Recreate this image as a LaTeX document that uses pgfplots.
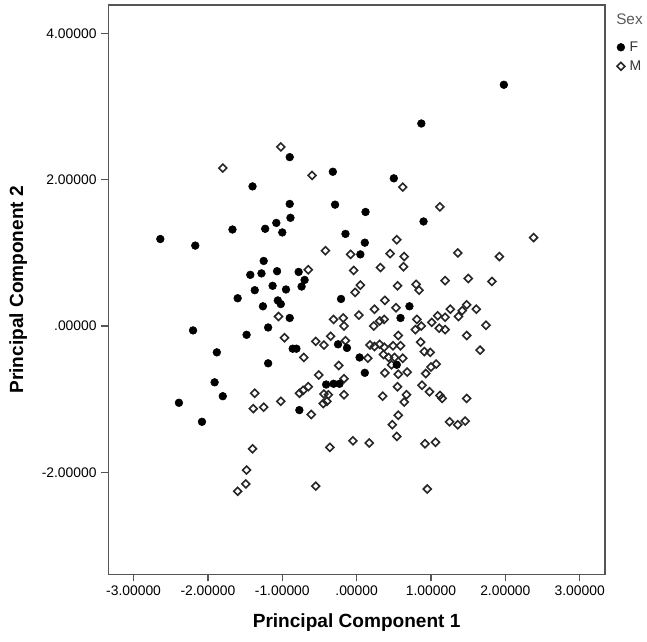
\documentclass[border=0pt]{standalone}
\usepackage{fontspec}
\setmainfont{Liberation Sans}
\usepackage{pgfplots}
\pgfplotsset{compat=1.18}
\definecolor{frame}{HTML}{555555}
\definecolor{sexgray}{HTML}{5A5A5A}
\pgfplotsset{myimg/.style={legend image code/.code={\draw[mark repeat=2,mark phase=2,##1] plot coordinates {(0pt,0pt)(4pt,0pt)(8pt,0pt)};}}}
\begin{document}
\begin{tikzpicture}
\begin{axis}[
  scale only axis,
  width=372.5pt, height=427pt,
  xmin=-3.34, xmax=3.34, ymin=-3.397, ymax=4.391,
  clip=false,
  axis line style={frame, line width=1.1pt},
  tick style={frame, line width=0.9pt},
  tick align=outside, tick pos=left,
  major tick length=5.25pt,
  xtick={-3,-2,-1,0,1,2,3},
  xticklabels={-3.00000,-2.00000,-1.00000,.00000,1.00000,2.00000,3.00000},
  ytick={-2,0,2,4},
  yticklabels={-2.00000,.00000,2.00000,4.00000},
  ticklabel style={font=\fontsize{10.4}{12}\selectfont, text=black},
  xlabel={Principal Component 1},
  ylabel={Principal Component 2},
  label style={font=\fontsize{14.3}{16}\selectfont\bfseries},
  xlabel style={at={(axis description cs:0.5,-0.0855)}, anchor=center},
  ylabel style={at={(axis description cs:-0.1812,0.5)}, anchor=center},
  legend style={draw=none, fill=none, at={(rel axis cs:1,1)}, anchor=north west,
    xshift=8.75pt, yshift=-24.4pt, inner sep=0pt, row sep=0pt,
    font=\fontsize{10.5}{12}\selectfont, text=black!80,
    nodes={inner sep=0pt, minimum height=14.25pt},
    /tikz/every odd column/.style={column sep=3.5pt}},
  legend cell align=left,
]
\addlegendimage{only marks, mark=*, mark size=2.9pt, mark options={draw=black, fill=black}, myimg}
\addlegendentry{F}
\addlegendimage{only marks, mark=square, mark size=2.1pt, mark options={rotate=45, line width=1.2pt, draw=black!85, fill=none}, myimg}
\addlegendentry{M}
\addplot[only marks, mark=square, mark size=2.1pt, mark options={rotate=45, line width=1.2pt, draw=black!85, fill=none}, forget plot] coordinates {
(-1.02,2.45)(-1.80,2.16)(-0.60,2.06)(0.62,1.90)(1.12,1.63)(0.54,1.18)(2.38,1.21)(-0.42,1.03)
(-0.08,0.98)(0.45,0.99)(0.64,0.95)(1.36,1.00)(1.92,0.95)(-0.65,0.77)(-0.04,0.76)(0.32,0.80)
(0.63,0.81)(0.05,0.56)(-0.02,0.46)(0.55,0.55)(0.80,0.57)(0.84,0.49)(1.19,0.62)(1.50,0.65)
(1.82,0.61)(0.38,0.35)(0.24,0.23)(0.53,0.25)(0.03,0.15)(-1.05,0.13)(-0.31,0.09)(-0.18,0.11)
(-0.17,0.00)(0.23,-0.00)(0.31,0.07)(0.37,0.09)(0.81,0.09)(0.79,-0.05)(0.87,0.00)(1.01,0.05)
(1.09,0.14)(1.19,0.12)(1.26,0.23)(1.11,-0.03)(1.19,-0.05)(1.37,0.13)(1.42,0.21)(1.48,0.29)
(1.61,0.23)(1.74,0.01)(1.48,-0.13)(1.66,-0.33)(-0.97,-0.16)(-0.35,-0.14)(-0.55,-0.21)(-0.44,-0.26)
(-0.15,-0.20)(0.56,-0.13)(0.18,-0.26)(0.24,-0.28)(0.31,-0.25)(0.37,-0.29)(0.49,-0.27)(0.59,-0.27)
(0.86,-0.22)(0.91,-0.35)(0.99,-0.36)(-0.71,-0.43)(0.15,-0.44)(0.36,-0.39)(0.43,-0.43)(0.51,-0.43)
(0.62,-0.44)(-0.24,-0.54)(0.47,-0.53)(1.00,-0.56)(1.07,-0.52)(-0.51,-0.67)(0.38,-0.64)(0.56,-0.66)
(0.68,-0.63)(0.93,-0.65)(-0.17,-0.72)(-0.65,-0.83)(-0.72,-0.88)(-0.77,-0.92)(-1.37,-0.92)(0.55,-0.83)
(0.88,-0.81)(0.98,-0.90)(-0.44,-0.93)(-0.38,-0.94)(-0.17,-0.94)(0.35,-0.96)(0.67,-0.94)(1.12,-0.95)
(1.15,-0.99)(1.48,-0.99)(-1.02,-1.03)(-0.45,-1.06)(-0.40,-1.03)(0.64,-1.04)(-1.39,-1.13)(-1.25,-1.11)
(-0.61,-1.21)(0.56,-1.22)(1.25,-1.31)(1.36,-1.35)(1.46,-1.30)(0.48,-1.35)(0.54,-1.51)(-0.05,-1.57)
(0.17,-1.60)(0.92,-1.61)(1.06,-1.59)(-1.40,-1.68)(-0.36,-1.66)(-1.48,-1.97)(-1.49,-2.16)(-1.60,-2.26)
(-0.55,-2.19)(0.95,-2.23)
};
\addplot[only marks, mark=*, mark size=2.9pt, mark options={draw=black, fill=black}, forget plot] coordinates {
(1.98,3.30)(0.87,2.77)(-0.90,2.31)(-0.32,2.11)(0.50,2.02)(-1.40,1.91)(-0.90,1.67)(-0.29,1.66)
(-0.89,1.48)(0.12,1.56)(0.90,1.43)(-1.08,1.41)(-1.23,1.33)(-1.67,1.32)(-1.00,1.28)(-0.15,1.26)
(-2.64,1.19)(0.11,1.14)(-2.17,1.10)(0.05,0.98)(-1.25,0.89)(-1.43,0.70)(-1.28,0.72)(-1.07,0.75)
(-0.78,0.74)(-0.70,0.63)(-0.74,0.54)(-1.13,0.55)(-1.37,0.49)(-0.95,0.50)(-1.60,0.38)(-1.06,0.35)
(-1.02,0.30)(-1.26,0.27)(-0.21,0.37)(0.71,0.27)(-0.90,0.11)(0.59,0.11)(-2.20,-0.06)(-1.19,-0.02)
(-1.48,-0.12)(-0.25,-0.25)(-0.13,-0.30)(-0.86,-0.31)(-0.81,-0.31)(-1.88,-0.36)(0.04,-0.43)(-1.19,-0.51)
(0.11,-0.64)(-1.91,-0.77)(-0.41,-0.80)(-0.31,-0.79)(-0.23,-0.79)(-1.80,-0.96)(-2.39,-1.05)(-0.77,-1.15)
(-2.08,-1.31)(0.54,-0.53)
};
\node[anchor=west, text=sexgray, font=\fontsize{11.5}{13}\selectfont, inner sep=0pt] at (rel axis cs:1,1) [xshift=8.25pt, yshift=-10.5pt] {Sex};
\end{axis}
\pgfresetboundingbox
\useasboundingbox ([shift={(-81.2pt,-50pt)}]current axis.south west) rectangle ([shift={(31.5pt,3.75pt)}]current axis.north east);
\end{tikzpicture}
\end{document}
